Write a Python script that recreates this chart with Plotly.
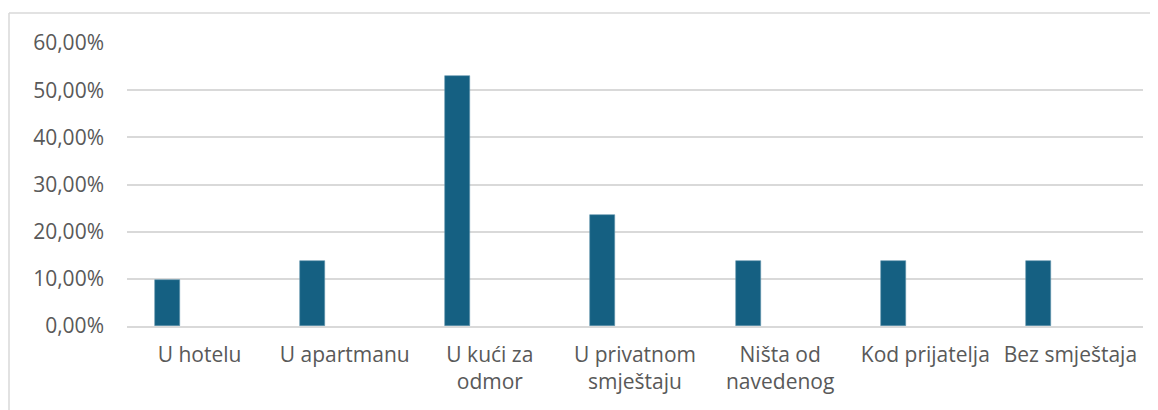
import plotly.graph_objects as go

# data
categories = ["U hotelu", "U apartmanu", "U kući za<br>odmor", "U privatnom<br>smještaju",
              "Ništa od<br>navedenog", "Kod prijatelja", "Bez smještaja"]
shares = [0.0980, 0.1373, 0.5294, 0.2353, 0.1373, 0.1373, 0.1373]
y_ticks = [0, 0.1, 0.2, 0.3, 0.4, 0.5, 0.6]

W, H = 1158, 410
# page body has an 8px margin, so the figure is shifted; margins compensate
ML, MR, MT, MB = 119, 23, 35, 92

fig = go.Figure()
fig.add_trace(go.Bar(
    x=categories, y=shares,
    marker=dict(color="#156082", line=dict(color="#5f93ad", width=0.6)),
    width=0.172, offset=-0.307,
    hoverinfo="x+y",
))

# chart-area border (left + top)
bx = (1 - ML) / (W - ML - MR)
by = (H - 5 - MB) / (H - MT - MB)
fig.add_shape(type="line", xref="paper", yref="paper", x0=bx, x1=bx, y0=-1, y1=by,
              line=dict(color="#d9d9d9", width=1.5))
fig.add_shape(type="line", xref="paper", yref="paper", x0=bx, x1=1.2, y0=by, y1=by,
              line=dict(color="#d9d9d9", width=1.5))

fig.update_layout(
    width=W, height=H,
    margin=dict(l=ML, r=MR, t=MT, b=MB),
    paper_bgcolor="white", plot_bgcolor="white",
    separators=",.",
    showlegend=False,
    font=dict(family="Open Sans, Roboto, sans-serif", size=21, color="#595959"),
    bargap=0,
)
fig.update_xaxes(
    showgrid=False, showline=True, linecolor="#d9d9d9", linewidth=1.5,
    ticks="", ticklabelstandoff=9, tickfont=dict(size=21, color="#595959"),
)
fig.update_yaxes(
    range=[0, 0.6], tickvals=y_ticks, tickformat=".2%",
    showgrid=True, gridcolor="#d9d9d9", gridwidth=1.5,
    zeroline=False, showline=False, ticks="", ticklabelstandoff=22,
    tickfont=dict(size=21, color="#595959"),
)

fig.write_html("out.html")
